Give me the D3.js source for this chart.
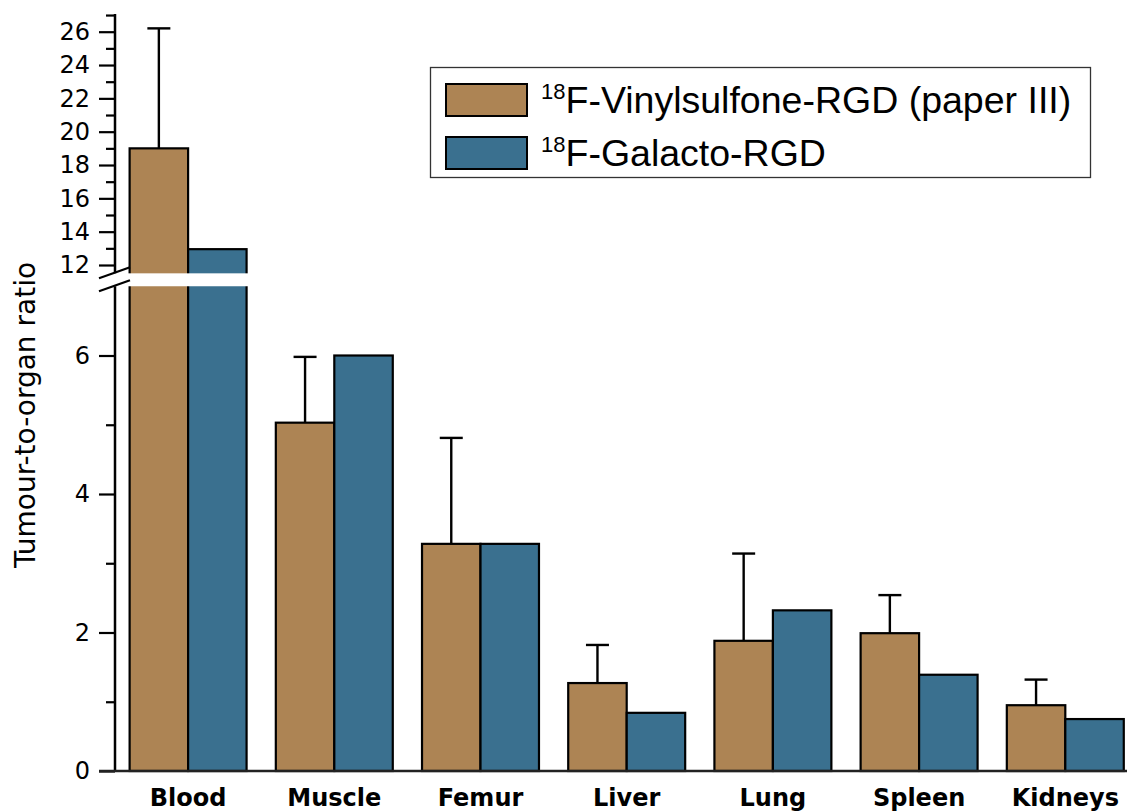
<!DOCTYPE html>
<html><head><meta charset="utf-8">
<script src="https://cdn.jsdelivr.net/npm/d3@7"></script>
<style>body{margin:0;background:#fff;} svg{display:block;}</style>
</head><body>
<svg id="chart" width="1127" height="811"></svg>
<script>
const categories = ["Blood","Muscle","Femur","Liver","Lung","Spleen","Kidneys"];
const vinylsulfone = [19.0, 5.03, 3.28, 1.27, 1.88, 1.99, 0.95];
const vinylsulfoneErr = [7.2, 0.95, 1.53, 0.55, 1.26, 0.55, 0.37];
const galacto = [12.95, 6.0, 3.28, 0.84, 2.32, 1.39, 0.75];
const seriesNames = ["Vinylsulfone", "Galacto"];
const legendLabels = ["F-Vinylsulfone-RGD (paper III)", "F-Galacto-RGD"];
const legendSup = "18";
const lowerMajor = [0, 2, 4, 6];
const lowerMinor = [1, 3, 5];
const upperMajor = [12, 14, 16, 18, 20, 22, 24, 26];
const upperMinor = [13, 15, 17, 19, 21, 23, 25, 27];
const colors = ["#AD8454", "#3A708F"];

const svg = d3.select("#chart");
const axisX = 115;
const breakLow = 7, breakHigh = 11.5, topVal = 27;

const yLow = d3.scaleLinear().domain([0, 6]).range([771, 355.5]);
const yHigh = d3.scaleLinear().domain([12, 26]).range([265, 31.7]);
const y = v => v <= breakLow ? yLow(v) : yHigh(v);

const x0 = d3.scaleBand().domain(categories).range([axisX, axisX + 7 * 146.2])
  .paddingInner(0.2).paddingOuter(0.1);
const x1 = d3.scaleBand().domain(seriesNames).range([0, x0.bandwidth()]);

const data = categories.map((c, i) => ({cat: c, vals: [vinylsulfone[i], galacto[i]], err: vinylsulfoneErr[i]}));

// bars
const g = svg.append("g");
data.forEach(d => {
  d.vals.forEach((v, j) => {
    g.append("rect")
      .attr("x", x0(d.cat) + x1(seriesNames[j]))
      .attr("y", y(v))
      .attr("width", x1.bandwidth())
      .attr("height", y(0) - y(v))
      .attr("fill", colors[j])
      .attr("stroke", "#000").attr("stroke-width", 2.2);
  });
});

// break gap across bars
svg.append("rect")
  .attr("x", axisX + 4).attr("y", yHigh(breakHigh))
  .attr("width", 1127).attr("height", yLow(breakLow) - yHigh(breakHigh))
  .attr("fill", "#fff");

// error bars (upper only, first series)
data.forEach(d => {
  const cx = x0(d.cat) + x1(seriesNames[0]) + x1.bandwidth() / 2;
  const top = y(d.vals[0] + d.err);
  g.append("line").attr("x1", cx).attr("x2", cx).attr("y1", y(d.vals[0])).attr("y2", top)
    .attr("stroke", "#000").attr("stroke-width", 2.4);
  g.append("line").attr("x1", cx - 11.5).attr("x2", cx + 11.5).attr("y1", top).attr("y2", top)
    .attr("stroke", "#000").attr("stroke-width", 2.4);
});

// axes
function drawAxis(scale, major, minor) {
  const a = svg.append("g").attr("transform", `translate(${axisX},0)`)
    .call(d3.axisLeft(scale).tickValues(major).tickSize(16).tickPadding(9).tickFormat(d3.format("d")));
  a.select(".domain").remove();
  a.attr("font-size", 24).attr("font-family", "'DejaVu Sans', Verdana, sans-serif");
  a.selectAll(".tick line").attr("stroke", "#000").attr("stroke-width", 2.2);
  a.selectAll(".tick text").attr("fill", "#000");
  const m = svg.append("g").attr("transform", `translate(${axisX},0)`)
    .call(d3.axisLeft(scale).tickValues(minor).tickSize(9).tickFormat(""));
  m.select(".domain").remove();
  m.selectAll(".tick line").attr("stroke", "#000").attr("stroke-width", 2.2);
}
drawAxis(yLow, lowerMajor, lowerMinor);
drawAxis(yHigh, upperMajor, upperMinor);

// axis lines
svg.append("line").attr("x1", axisX).attr("x2", axisX).attr("y1", yHigh(topVal) - 1).attr("y2", yHigh(breakHigh))
  .attr("stroke", "#000").attr("stroke-width", 2.5);
svg.append("line").attr("x1", axisX).attr("x2", axisX).attr("y1", yLow(breakLow)).attr("y2", yLow(0) + 1)
  .attr("stroke", "#000").attr("stroke-width", 2.5);
// break slashes
[yHigh(breakHigh), yLow(breakLow)].forEach(yy => {
  svg.append("line").attr("x1", axisX - 16).attr("y1", yy + 5).attr("x2", axisX + 15).attr("y2", yy - 6)
    .attr("stroke", "#000").attr("stroke-width", 2.2);
});
// x axis line
svg.append("line").attr("x1", axisX - 16).attr("x2", 1127).attr("y1", yLow(0)).attr("y2", yLow(0))
  .attr("stroke", "#222").attr("stroke-width", 2.5);

// category labels
svg.append("g").selectAll("text").data(categories).join("text")
  .attr("x", d => x0(d) + x0.bandwidth() / 2)
  .attr("y", 806)
  .attr("text-anchor", "middle")
  .attr("font-family", "'DejaVu Sans', Verdana, sans-serif")
  .attr("font-weight", "bold").attr("font-size", 24).attr("fill", "#000")
  .text(d => d);

// y title
svg.append("text")
  .attr("transform", "translate(35,415) rotate(-90)")
  .attr("text-anchor", "middle")
  .attr("font-family", "'DejaVu Sans', Verdana, sans-serif")
  .attr("font-size", 28).attr("fill", "#000")
  .text("Tumour-to-organ ratio");

// legend
const lg = svg.append("g");
lg.append("rect").attr("x", 430.5).attr("y", 67.5).attr("width", 660).attr("height", 110)
  .attr("fill", "#fff").attr("stroke", "#333").attr("stroke-width", 1.3);
legendLabels.forEach((lab, i) => {
  const yy = 84 + i * 53;
  lg.append("rect").attr("x", 446).attr("y", yy).attr("width", 81).attr("height", 32)
    .attr("fill", colors[i]).attr("stroke", "#000").attr("stroke-width", 2);
  const t = lg.append("text").attr("x", 541).attr("y", yy + 29)
    .attr("font-family", "'Liberation Sans', Arial, sans-serif").attr("fill", "#000");
  t.append("tspan").attr("font-size", 22).attr("dy", -14).text(legendSup);
  t.append("tspan").attr("font-size", 37.5).attr("dy", 14).text(lab);
});
</script>
</body></html>
